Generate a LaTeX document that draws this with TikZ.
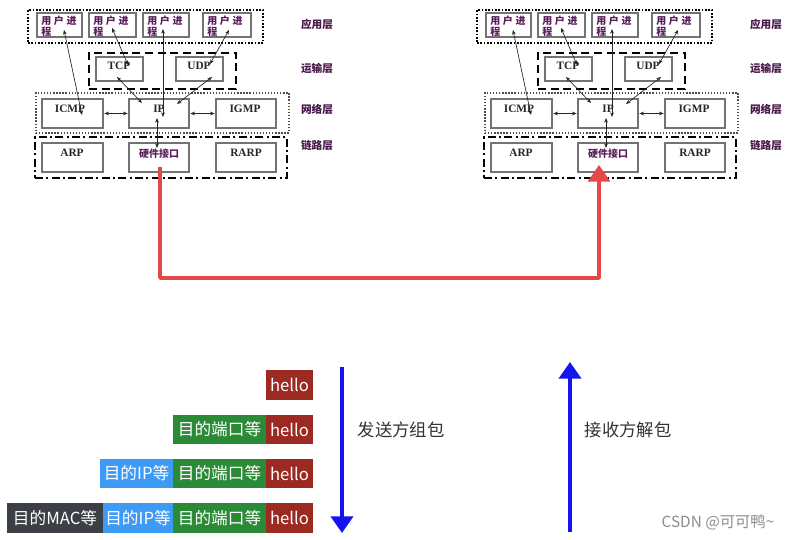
\documentclass[tikz,border=0pt]{standalone}
\usepackage{fontspec}
\setmainfont{Liberation Serif}
\newfontfamily\cjk{Noto Sans CJK SC}
\usetikzlibrary{arrows.meta}
\definecolor{purp}{HTML}{5A1E5C}
\definecolor{redarr}{HTML}{E5484B}
\definecolor{bluearr}{HTML}{1414EE}
\definecolor{cgray}{HTML}{3C4046}
\definecolor{cblue}{HTML}{3E9BF5}
\definecolor{cgreen}{HTML}{2A8A36}
\definecolor{cred}{HTML}{9C2A22}
\tikzset{
  inbox/.style={draw=black!55, line width=0.8pt, inner sep=0pt, outer sep=0pt},
  grp/.style={inner sep=0pt, outer sep=0pt},
  appgrp/.style={grp, draw, line width=1.3pt, dash pattern=on 1.2pt off 1.3pt},
  trgrp/.style={grp, draw, line width=1.4pt, dash pattern=on 6pt off 3.5pt},
  netgrp/.style={grp, draw=black!70, line width=0.8pt, dash pattern=on 1pt off 1.3pt},
  lnkgrp/.style={grp, draw, line width=1.4pt, dash pattern=on 6pt off 2.5pt on 1.5pt off 2.5pt},
  proto/.style={font=\bfseries\fontsize{8.5}{9}\selectfont, text=black!85, inner sep=0pt},
  cproto/.style={font=\cjk\bfseries\fontsize{7.5}{7.5}\selectfont, text=purp, inner sep=0pt},
  layer/.style={font=\cjk\bfseries\fontsize{8}{8}\selectfont, text=purp!80!black},
  link/.style={{Stealth[length=3.5pt,width=2.8pt]}-{Stealth[length=3.5pt,width=2.8pt]}, line width=0.5pt, black!85},
  pkt/.style={inner sep=0pt, outer sep=0pt, text=white, font=\cjk\fontsize{12.5}{13}\selectfont},
  bigarrow/.style={line width=3pt, -{Triangle[length=12.5pt,width=16.5pt]}},
}
\newcommand\bx[7]{\node[#6, minimum width={(#4-(#2))*0.75pt}, minimum height={(#5-(#3))*0.75pt}] (#1) at ({((#2)+(#4))/2},{((#3)+(#5))/2}) {#7};}
\begin{document}
\begin{tikzpicture}[x=0.75pt,y=-0.75pt]
\useasboundingbox (0,0) rectangle (791,539);
\foreach \o in {0,449}{
  % groups
  \bx{app\o}{\o+28}{10}{\o+263}{43}{appgrp}{}
  \bx{tr\o}{\o+89}{53}{\o+236}{89}{trgrp}{}
  \bx{net\o}{\o+36}{93}{\o+289}{133}{netgrp}{}
  \bx{lnk\o}{\o+35}{137}{\o+287}{178}{lnkgrp}{}
  % user processes
  \foreach \a/\b [count=\i] in {37/82,89/136,143/189,203/251}{
    \bx{up\i\o}{\o+\a}{13}{\o+\b}{37}{inbox}{}
    \node[cproto, anchor=north west, align=left] (upt\i\o) at (\o+\a+4,16) {用\hspace{2pt}户\hspace{2pt}进\\[0.5pt]程};
  }
  \bx{tcp\o}{\o+96}{57}{\o+143}{81}{inbox}{}
  \bx{udp\o}{\o+176}{57}{\o+223}{81}{inbox}{}
  \bx{icmp\o}{\o+42}{99}{\o+103}{128}{inbox}{}
  \bx{ip\o}{\o+129}{99}{\o+189}{128}{inbox}{}
  \bx{igmp\o}{\o+216}{99}{\o+276}{128}{inbox}{}
  \bx{arp\o}{\o+42}{143}{\o+103}{172}{inbox}{}
  \bx{hw\o}{\o+129}{143}{\o+189}{172}{inbox}{}
  \bx{rarp\o}{\o+216}{143}{\o+276}{172}{inbox}{}
  \node[proto] (tcpt\o) at (\o+119,66) {TCP};
  \node[proto] (udpt\o) at (\o+199,66) {UDP};
  \node[proto] (icmpt\o) at (\o+70,109) {ICMP};
  \node[proto] (ipt\o) at (\o+159,109) {IP};
  \node[proto] (igmpt\o) at (\o+245,109) {IGMP};
  \node[proto] (arpt\o) at (\o+72,153) {ARP};
  \node[cproto] (hwt\o) at (\o+159,154) {硬件接口};
  \node[proto] (rarpt\o) at (\o+246,153) {RARP};
  % layer labels
  \node[layer] (l1\o) at (\o+317,24) {应用层};
  \node[layer] (l2\o) at (\o+317,68) {运输层};
  \node[layer] (l3\o) at (\o+317,109) {网络层};
  \node[layer] (l4\o) at (\o+317,145) {链路层};
  % connector end points
  \coordinate (a1\o) at (\o+64,30);  \coordinate (b1\o) at (\o+82,115);
  \coordinate (a2\o) at (\o+112,28); \coordinate (b2\o) at (\o+128,65);
  \coordinate (a3\o) at (\o+163,29); \coordinate (b3\o) at (\o+163,117);
  \coordinate (a4\o) at (\o+229,30); \coordinate (b4\o) at (\o+210,64);
  \coordinate (a5\o) at (\o+117,77); \coordinate (b5\o) at (\o+142,103);
  \coordinate (a6\o) at (\o+212,77); \coordinate (b6\o) at (\o+177,104);
  \coordinate (a9\o) at (\o+157,118); \coordinate (b9\o) at (\o+157,148);
  \foreach \k in {1,2,3,4,5,6,9}{ \draw[link] (a\k\o) -- (b\k\o); }
  \draw[link] ([xshift=1pt]icmp\o.east) -- ([xshift=-1pt]ip\o.west);
  \draw[link] ([xshift=1pt]ip\o.east) -- ([xshift=-1pt]igmp\o.west);
}
% red route
\coordinate (rs) at (160,167);
\coordinate (rb1) at (160,278);
\coordinate (rb2) at (599,278);
\coordinate (re) at (599,165);
\draw[redarr, line width=2.6pt, line join=round, -{Triangle[length=12.5pt,width=16.5pt]}] (rs) -- (rb1) -- (rb2) -- (re);
% packets
\bx{h1}{266}{370}{313}{400}{pkt, fill=cred}{hello}
\bx{g2}{173}{415}{266}{444}{pkt, fill=cgreen}{目的端口等}
\bx{h2}{266}{415}{313}{444}{pkt, fill=cred}{hello}
\bx{b3}{100}{459}{173}{488}{pkt, fill=cblue}{目的IP等}
\bx{g3}{173}{459}{266}{488}{pkt, fill=cgreen}{目的端口等}
\bx{h3}{266}{459}{313}{488}{pkt, fill=cred}{hello}
\bx{k4}{7}{503}{103}{533}{pkt, fill=cgray}{目的MAC等}
\bx{b4}{103}{503}{173}{533}{pkt, fill=cblue}{目的IP等}
\bx{g4}{173}{503}{266}{533}{pkt, fill=cgreen}{目的端口等}
\bx{h4}{266}{503}{313}{533}{pkt, fill=cred}{hello}
% blue arrows
\coordinate (ds) at (342,367); \coordinate (de) at (342,533);
\coordinate (us) at (570,532); \coordinate (ue) at (570,362);
\draw[bigarrow, bluearr] (ds) -- (de);
\draw[bigarrow, bluearr] (us) -- (ue);
\node[font=\cjk\fontsize{13}{14}\selectfont, text=black!80] (send) at (401,430) {发送方组包};
\node[font=\cjk\fontsize{13}{14}\selectfont, text=black!80] (recv) at (628,430) {接收方解包};
\node[font=\cjk\fontsize{11.5}{12}\selectfont, text=black!45] (wm) at (718,522) {CSDN @可可鸭\textasciitilde};
\end{tikzpicture}
\end{document}
